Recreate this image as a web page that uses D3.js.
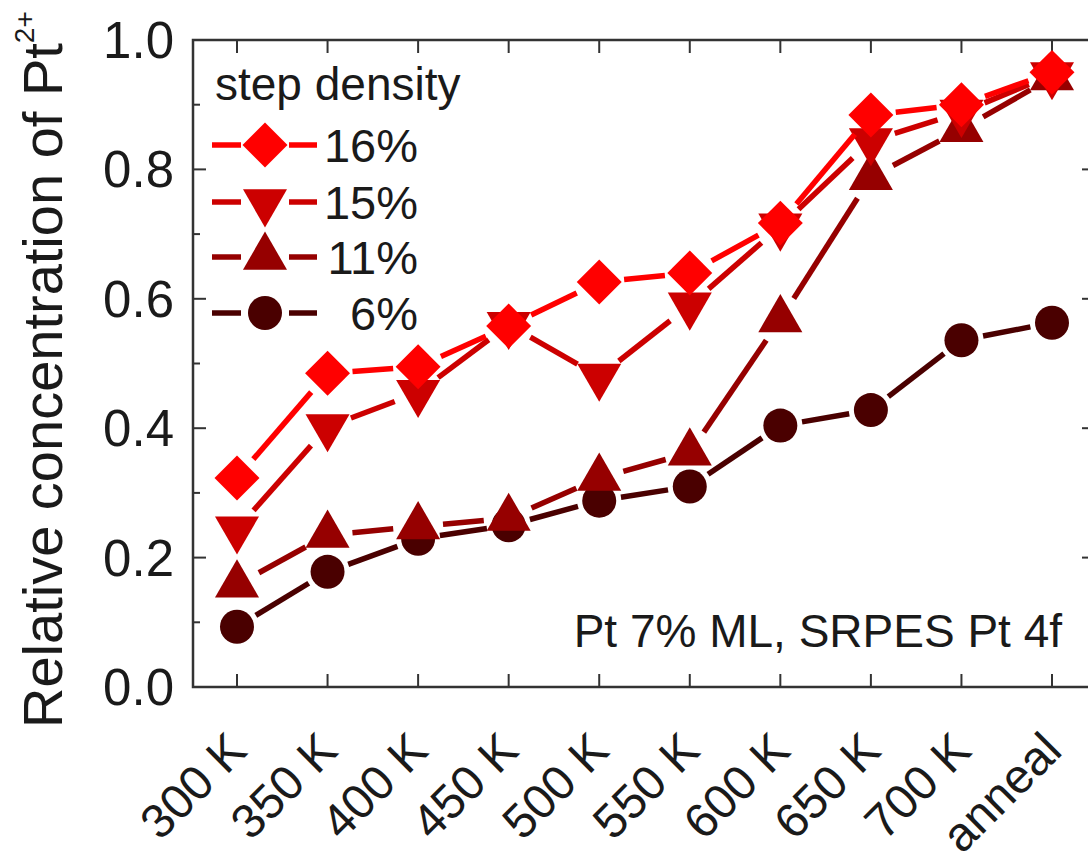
<!DOCTYPE html>
<html>
<head>
<meta charset="utf-8">
<script src="https://cdn.jsdelivr.net/npm/d3@7"></script>
<style>
  body { margin: 0; background: #fff; }
  text { font-family: "Liberation Sans", Arial, sans-serif; fill: #1a1a1a; }
</style>
</head>
<body>
<div id="chart"></div>
<script>
// categories along x
const categories = ["300 K", "350 K", "400 K", "450 K", "500 K", "550 K", "600 K", "650 K", "700 K", "anneal"]
// relative concentration of Pt2+ per step density
const s16 = [0.323, 0.485, 0.495, 0.558, 0.626, 0.640, 0.717, 0.884, 0.900, 0.950]
const s15 = [0.244, 0.402, 0.455, 0.560, 0.480, 0.590, 0.712, 0.844, 0.888, 0.946]
const s11 = [0.158, 0.235, 0.248, 0.261, 0.323, 0.362, 0.568, 0.788, 0.862, 0.942]
const s6 = [0.093, 0.178, 0.229, 0.250, 0.288, 0.310, 0.404, 0.428, 0.536, 0.563]
const seriesNames = ["16%", "15%", "11%", "6%"]
const yTicks = [0.0, 0.2, 0.4, 0.6, 0.8, 1.0]

const width = 1088, height = 867
const margin = { top: 40, right: -7, bottom: 180, left: 193 }
const plotW = width - margin.left - margin.right
const plotH = height - margin.top - margin.bottom

const svg = d3.select("#chart").append("svg")
    .attr("width", width)
    .attr("height", height)

const g = svg.append("g").attr("transform", `translate(${margin.left},${margin.top})`)

const x = d3.scalePoint().domain(categories).range([44, 859])
const y = d3.scaleLinear().domain([0, 1]).range([plotH, 0])

// frame
g.append("rect")
    .attr("width", plotW).attr("height", plotH)
    .attr("fill", "none").attr("stroke", "#333").attr("stroke-width", 2.5)

// y ticks (left + right, inward)
const minor = d3.range(0.1, 1.0, 0.2)
g.selectAll(".ytl").data(yTicks).join("line")
    .attr("x1", 0).attr("x2", 13).attr("y1", d => y(d)).attr("y2", d => y(d))
    .attr("stroke", "#333").attr("stroke-width", 2)
g.selectAll(".ytm").data(minor).join("line")
    .attr("x1", 0).attr("x2", 7).attr("y1", d => y(d)).attr("y2", d => y(d))
    .attr("stroke", "#333").attr("stroke-width", 2)
g.selectAll(".ytr").data(yTicks).join("line")
    .attr("x1", plotW).attr("x2", plotW - 13).attr("y1", d => y(d)).attr("y2", d => y(d))
    .attr("stroke", "#333").attr("stroke-width", 2)
g.selectAll(".ytrm").data(minor).join("line")
    .attr("x1", plotW).attr("x2", plotW - 7).attr("y1", d => y(d)).attr("y2", d => y(d))
    .attr("stroke", "#333").attr("stroke-width", 2)

g.selectAll(".ylab").data(yTicks).join("text")
    .attr("x", -19).attr("y", d => y(d) + 18)
    .attr("text-anchor", "end").attr("font-size", 51)
    .text(d => d.toFixed(1))

// x ticks (bottom + top, inward)
g.selectAll(".xtb").data(categories).join("line")
    .attr("x1", d => x(d)).attr("x2", d => x(d)).attr("y1", plotH).attr("y2", plotH - 13)
    .attr("stroke", "#333").attr("stroke-width", 2)
g.selectAll(".xtt").data(categories).join("line")
    .attr("x1", d => x(d)).attr("x2", d => x(d)).attr("y1", 0).attr("y2", 13)
    .attr("stroke", "#333").attr("stroke-width", 2)

g.selectAll(".xlab").data(categories).join("text")
    .attr("text-anchor", "end").attr("font-size", 48)
    .attr("transform", d => `translate(${x(d) + 12},${plotH + 66}) rotate(-45)`)
    .text(d => d)

// y axis title
const yt = svg.append("text")
    .attr("transform", "translate(62,728) rotate(-90)")
    .attr("font-size", 56)
yt.append("tspan").text("Relative concentration of Pt")
yt.append("tspan").attr("dy", -28).attr("font-size", 28).text("2+")

// series
const colors = ["#ff0000", "#cc0000", "#960000", "#4a0000"]
const values = [s16, s15, s11, s6]
const symbolFor = [
    { type: d3.symbolSquare, size: 1010, rot: 45, r: 25 },
    { type: d3.symbolTriangle, size: 840, rot: 180, r: 25 },
    { type: d3.symbolTriangle, size: 840, rot: 0, r: 25 },
    { type: d3.symbolCircle, size: 908, rot: 0, r: 22 }
]

// draw from 6% up to 16% so 16% sits on top
for (let i = 3; i >= 0; i--) {
    const pts = values[i].map((v, j) => [x(categories[j]), y(v)])
    const sym = symbolFor[i]
    const segs = d3.pairs(pts).map(([a, b]) => {
        const dx = b[0] - a[0], dy = b[1] - a[1]
        const len = Math.hypot(dx, dy)
        const ux = dx / len, uy = dy / len
        return [a[0] + ux * sym.r, a[1] + uy * sym.r, b[0] - ux * sym.r, b[1] - uy * sym.r]
    })
    g.append("g").selectAll("line").data(segs).join("line")
        .attr("x1", d => d[0]).attr("y1", d => d[1])
        .attr("x2", d => d[2]).attr("y2", d => d[3])
        .attr("stroke", colors[i]).attr("stroke-width", 5.5)
    g.append("g").selectAll("path").data(pts).join("path")
        .attr("d", d3.symbol(sym.type, sym.size))
        .attr("transform", d => `translate(${d[0]},${d[1]}) rotate(${sym.rot})`)
        .attr("fill", colors[i])
}

// legend
svg.append("text").attr("x", 215).attr("y", 100).attr("font-size", 46).text("step density")
const legY = [145, 202, 257, 313]
seriesNames.forEach((name, i) => {
    const sym = symbolFor[i]
    const lg = svg.append("g")
    lg.append("line").attr("x1", 212).attr("x2", 241).attr("y1", legY[i]).attr("y2", legY[i])
        .attr("stroke", colors[i]).attr("stroke-width", 5.5)
    lg.append("line").attr("x1", 289).attr("x2", 317).attr("y1", legY[i]).attr("y2", legY[i])
        .attr("stroke", colors[i]).attr("stroke-width", 5.5)
    lg.append("path").attr("d", d3.symbol(sym.type, sym.size))
        .attr("transform", `translate(265,${legY[i]}) rotate(${sym.rot})`)
        .attr("fill", colors[i])
    lg.append("text").attr("x", 418).attr("y", legY[i] + 17)
        .attr("text-anchor", "end").attr("font-size", 47).text(name)
})

// annotation
svg.append("text").attr("x", 1062).attr("y", 647)
    .attr("text-anchor", "end").attr("font-size", 46)
    .text("Pt 7% ML, SRPES Pt 4f")
</script>
</body>
</html>
